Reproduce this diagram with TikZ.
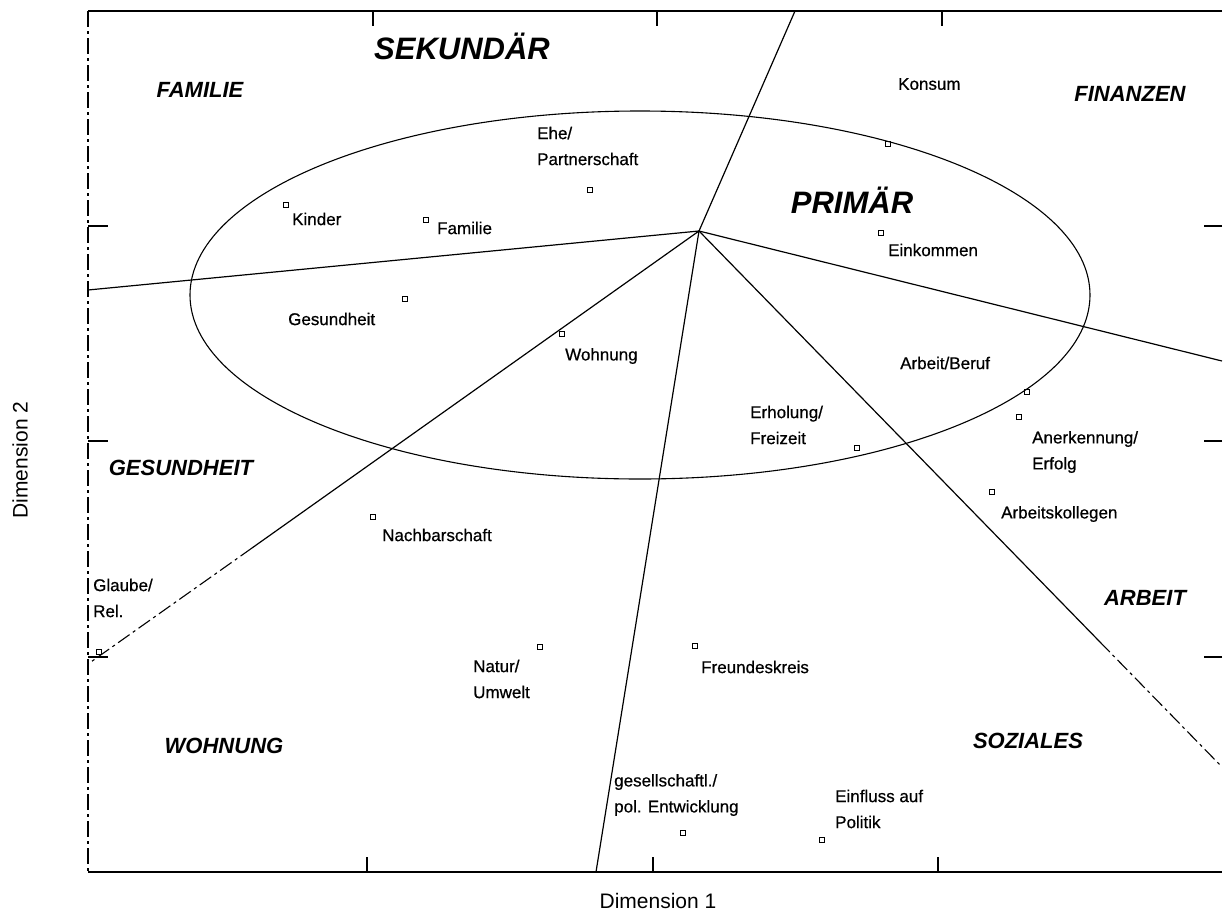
\documentclass[tikz,border=0pt]{standalone}
\usepackage{fontspec}
\setmainfont{Liberation Sans}
\newfontfamily\lblfont[FakeBold=0.6]{Liberation Sans}
\begin{document}
\begin{tikzpicture}[x=1pt,y=-1pt,
  frame/.style={line width=1.4pt},
  ray/.style={line width=1.2pt},
  brokenray/.style={line width=1.1pt, dash pattern=on 14pt off 4pt on 3pt off 4pt},
  tick/.style={line width=1.1pt},
  pt/.style={draw, rectangle, minimum size=4.5pt, inner sep=0pt, line width=0.8pt},
  lbl/.style={anchor=west, inner sep=0pt, align=left, font=\lblfont\fontsize{17}{26}\selectfont},
  cat/.style={inner sep=0pt, font=\fontsize{22}{26}\selectfont\bfseries\itshape},
  big/.style={inner sep=0pt, font=\fontsize{31}{36}\selectfont\bfseries\itshape},
  axis/.style={inner sep=0pt, font=\fontsize{21}{25}\selectfont}]
\useasboundingbox (0,0) rectangle (1224,924);
% frame
\coordinate (tl) at (88,11);
\coordinate (tr) at (1222,11);
\coordinate (bl) at (88,872);
\coordinate (br) at (1222,872);
\draw[frame] (tr) -- (tl);
\draw[line width=1.1pt, dash pattern=on 16pt off 4pt on 3pt off 4pt] (tl) -- (bl);
\draw[frame] (bl) -- (br);
% ticks
\foreach \x in {373,657,942} \draw[tick] (\x,11) -- (\x,26);
\foreach \x in {367,653,938} \draw[tick] (\x,872) -- (\x,857);
\foreach \y in {226,441,657} {\draw[tick] (88,\y) -- (108,\y); \draw[tick] (1222,\y) -- (1204,\y);}
% ellipse
\draw[line width=1.1pt] (640,295) ellipse [x radius=450, y radius=184];
% rays
\coordinate (C) at (699,231);
\coordinate (rT) at (795,11);
\coordinate (rL) at (88,290);
\coordinate (rLLm) at (252,548);
\coordinate (rLL) at (88,664);
\coordinate (rB) at (596,872);
\coordinate (rLRm) at (1100,642);
\coordinate (rLR) at (1222,767);
\coordinate (rR) at (1222,361);
\foreach \e in {rT,rL,rLLm,rB,rLRm,rR} \draw[ray] (C) -- (\e);
\draw[brokenray] (rLLm) -- (rLL);
\draw[brokenray] (rLRm) -- (rLR);
% points
\node[pt] (pKinder) at (286,205) {};
\node[pt] (pFamilie) at (426,220) {};
\node[pt] (pEhe) at (590,190) {};
\node[pt] (pKonsum) at (888,144) {};
\node[pt] (pEink) at (881,233) {};
\node[pt] (pGes) at (405,299) {};
\node[pt] (pWohn) at (562,334) {};
\node[pt] (pBeruf) at (1027,392) {};
\node[pt] (pAnerk) at (1019,417) {};
\node[pt] (pErhol) at (857,448) {};
\node[pt] (pKoll) at (992,492) {};
\node[pt] (pNachb) at (373,517) {};
\node[pt] (pGlaube) at (99,652) {};
\node[pt] (pNatur) at (540,647) {};
\node[pt] (pFreund) at (695,646) {};
\node[pt] (pGesell) at (683,833) {};
\node[pt] (pEinfl) at (822,840) {};
% labels
\node[lbl] (lKinder) at (292,219) {Kinder};
\node[lbl] (lFamilie) at (437,228) {Familie};
\node[lbl] (lEhe) at (537,146) {Ehe/\\Partnerschaft};
\node[lbl] (lKonsum) at (898,84) {Konsum};
\node[lbl] (lEink) at (888,250) {Einkommen};
\node[lbl] (lGes) at (288,319) {Gesundheit};
\node[lbl] (lWohn) at (565,356) {Wohnung};
\node[lbl] (lBeruf) at (900,363) {Arbeit/Beruf};
\node[lbl] (lErhol) at (750,425) {Erholung/\\Freizeit};
\node[lbl] (lAnerk) at (1032,452) {Anerkennung/\\Erfolg};
\node[lbl] (lKoll) at (1001,514) {Arbeitskollegen};
\node[lbl] (lNachb) at (382,535) {Nachbarschaft};
\node[lbl] (lGlaube) at (93,598) {Glaube/\\Rel.};
\node[lbl] (lNatur) at (473,679) {Natur/\\Umwelt};
\node[lbl] (lFreund) at (701,667) {Freundeskreis};
\node[lbl] (lGesell) at (614,795) {gesellschaftl./\\pol. Entwicklung};
\node[lbl] (lEinfl) at (835,809) {Einfluss auf\\Politik};
% categories
\node[big] (cSek) at (462,46) {SEKUNDÄR};
\node[big] (cPrim) at (852,200) {PRIMÄR};
\node[cat] (cFam) at (200,90) {FAMILIE};
\node[cat] (cFin) at (1130,94) {FINANZEN};
\node[cat] (cGes) at (181,468) {GESUNDHEIT};
\node[cat] (cArb) at (1145,598) {ARBEIT};
\node[cat] (cWohn) at (224,746) {WOHNUNG};
\node[cat] (cSoz) at (1028,741) {SOZIALES};
% axis titles
\node[axis] (d1) at (658,901) {Dimension 1};
\node[axis, rotate=90] (d2) at (20,460) {Dimension 2};
\end{tikzpicture}
\end{document}
